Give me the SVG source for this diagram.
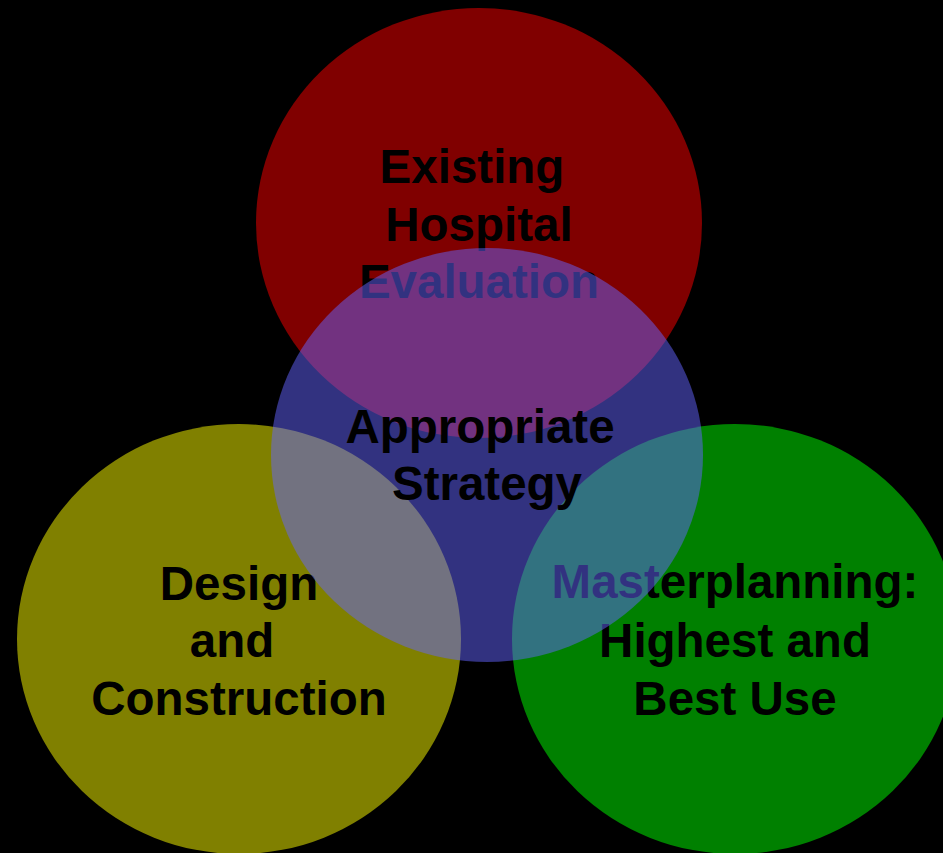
<svg xmlns="http://www.w3.org/2000/svg" width="943" height="853" viewBox="0 0 943 853">
<style>
.lbl{font-family:"Liberation Sans",Arial,sans-serif;font-weight:bold;font-size:47.5px;fill:#000;text-anchor:middle}
</style>
<rect x="0" y="0" width="943" height="853" fill="#000"/>
<g id="connectors"/>
<g id="node-existing">
<ellipse cx="479" cy="223" rx="223" ry="215" fill="#800000"/>
<text class="lbl" x="472" y="183">Existing</text>
<text class="lbl" x="479" y="241">Hospital</text>
<text class="lbl" x="479" y="298">Evaluation</text>
</g>
<g id="node-design">
<ellipse cx="239" cy="639" rx="222" ry="215" fill="#808000"/>
<text class="lbl" x="239" y="600">Design</text>
<text class="lbl" x="232" y="657">and</text>
<text class="lbl" x="239" y="715">Construction</text>
</g>
<g id="node-masterplanning">
<ellipse cx="735" cy="639" rx="223" ry="215" fill="#008000"/>
<text class="lbl" x="735" y="598">Masterplanning:</text>
<text class="lbl" x="735" y="657">Highest and</text>
<text class="lbl" x="735" y="715">Best Use</text>
</g>
<g id="node-strategy">
<ellipse cx="487" cy="455" rx="216" ry="207" fill="#6464ff" fill-opacity="0.5"/>
<text class="lbl" x="480" y="443">Appropriate</text>
<text class="lbl" x="487" y="500">Strategy</text>
</g>
</svg>
